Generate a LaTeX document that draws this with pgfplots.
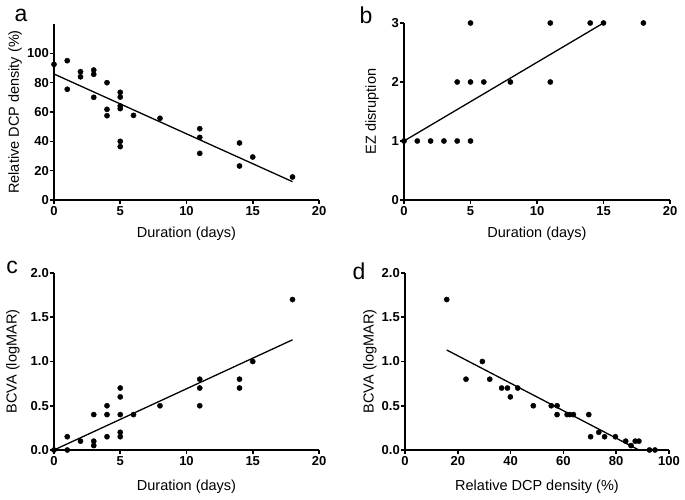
\documentclass[border=0pt]{standalone}
\usepackage{fontspec}
\setmainfont{Liberation Sans}
\usepackage{pgfplots}
\pgfplotsset{compat=1.18}
\pgfplotsset{
  gp/.style={
    scale only axis,
    anchor=origin,
    axis x line*=bottom, axis y line*=left,
    axis line style={line width=1.6pt,-},
    tick style={line width=1.6pt,black},
    tick align=outside, major tick length=4pt,
    minor tick num=0,
    /pgf/number format/assume math mode=true,
    ticklabel style={font=\fontsize{13}{14}\selectfont\bfseries},
    yticklabel style={inner sep=1pt},
    xticklabel style={inner sep=2pt},
    label style={font=\fontsize{14.5}{16}\selectfont},
    clip=false,
  },
  dots/.style={only marks, mark=*, mark size=2.6pt, black},
  fit/.style={black, line width=1.3pt, no marks},
}
\tikzset{plab/.style={font=\fontsize{23}{25}\selectfont, inner sep=0pt}}
\begin{document}
\begin{tikzpicture}
\useasboundingbox (0pt,0pt) rectangle (685pt,500pt);
% panel a
\begin{axis}[gp, at={(54pt,300pt)}, width=265pt, height=176pt,
  xmin=0, xmax=20, ymin=0, ymax=120, xtick={0,5,10,15,20}, ytick={0,20,...,100},
  xlabel={Duration (days)}, ylabel={Relative DCP density (\%)},
  xlabel style={at={(axis description cs:0.5,-0.193)}, anchor=center},
  ylabel style={at={(axis description cs:-0.147,0.5)}, anchor=center}]
\addplot[dots] coordinates {
(0,92.5) (1,95) (1,75.5) (2,87.5) (2,84) (3,88.6) (3,85.7) (3,70)
(4,80) (4,61.8) (4,57.5) (5,73.4) (5,70.2) (5,64.1) (5,62.3) (5,40) (5,36.4)
(6,57.7) (8,55.7) (11,48.6) (11,42.7) (11,31.8) (14,38.9) (14,23.2) (15,29.3) (18,15.7)};
\addplot[fit] coordinates {(0,85.9) (18,12.5)};
\end{axis}
% panel b
\begin{axis}[gp, at={(404pt,300pt)}, width=266pt, height=177pt,
  xmin=0, xmax=20, ymin=0, ymax=3, xtick={0,5,10,15,20}, ytick={0,1,2,3},
  xlabel={Duration (days)}, ylabel={EZ disruption},
  xlabel style={at={(axis description cs:0.5,-0.192)}, anchor=center},
  ylabel style={at={(axis description cs:-0.120,0.5)}, anchor=center}]
\addplot[dots] coordinates {
(5,3) (11,3) (14,3) (15,3) (18,3)
(4,2) (5,2) (6,2) (8,2) (11,2)
(0,1) (1,1) (2,1) (3,1) (4,1) (5,1)};
\addplot[fit] coordinates {(0,1) (15,3)};
\end{axis}
% panel c
\begin{axis}[gp, at={(54pt,50pt)}, width=265pt, height=177pt,
  xmin=0, xmax=20, ymin=0, ymax=2, xtick={0,5,10,15,20}, ytick={0,0.5,...,2},
  yticklabel style={/pgf/number format/.cd,fixed,fixed zerofill,precision=1},
  xlabel={Duration (days)}, ylabel={BCVA (logMAR)},
  xlabel style={at={(axis description cs:0.5,-0.209)}, anchor=center},
  ylabel style={at={(axis description cs:-0.155,0.5)}, anchor=center}]
\addplot[dots] coordinates {
(0,0) (1,0.15) (1,0) (2,0.1) (3,0.4) (3,0.1) (3,0.05) (4,0.5) (4,0.4) (4,0.15)
(5,0.7) (5,0.6) (5,0.4) (5,0.2) (5,0.15) (6,0.4) (8,0.5) (11,0.8) (11,0.7) (11,0.5)
(14,0.8) (14,0.7) (15,1.0) (18,1.7)};
\addplot[fit] coordinates {(0,0) (18,1.245)};
\end{axis}
% panel d
\begin{axis}[gp, at={(405pt,50pt)}, width=264pt, height=177pt,
  xmin=0, xmax=100, ymin=0, ymax=2, xtick={0,20,...,100}, ytick={0,0.5,...,2},
  yticklabel style={/pgf/number format/.cd,fixed,fixed zerofill,precision=1},
  xlabel={Relative DCP density (\%)}, ylabel={BCVA (logMAR)},
  xlabel style={at={(axis description cs:0.5,-0.209)}, anchor=center},
  ylabel style={at={(axis description cs:-0.133,0.5)}, anchor=center}]
\addplot[dots] coordinates {
(15.8,1.7) (23.1,0.8) (29.3,1.0) (32.1,0.8) (36.6,0.7) (38.8,0.7) (39.9,0.6) (42.7,0.7)
(48.6,0.5) (55.4,0.5) (57.6,0.5) (57.6,0.4) (61.4,0.4) (62.4,0.4) (63.8,0.4) (69.6,0.4)
(70.3,0.15) (73.4,0.2) (75.6,0.15) (79.7,0.15) (83.6,0.1) (85.6,0.05) (87.2,0.1) (88.6,0.1)
(92.6,0) (94.7,0)};
\addplot[fit] coordinates {(15.8,1.13) (88.6,0)};
\end{axis}
\node[plab] at (21pt,485pt) {a};
\node[plab] at (366pt,485pt) {b};
\node[plab] at (12pt,233pt) {c};
\node[plab] at (359pt,229pt) {d};
\end{tikzpicture}
\end{document}
